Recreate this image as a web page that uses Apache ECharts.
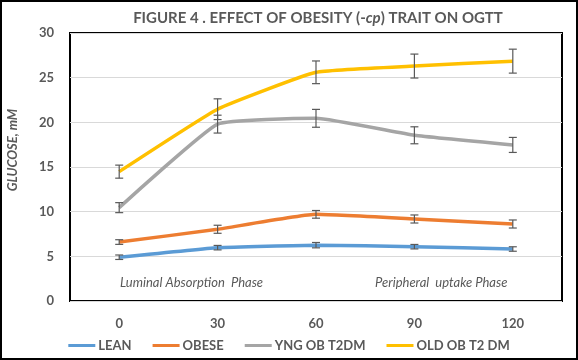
<!DOCTYPE html>
<html><head><meta charset="utf-8">
<script src="https://cdn.jsdelivr.net/npm/echarts@6/dist/echarts.min.js"></script>
<style>html,body{margin:0;padding:0;background:#fff}#c{width:578px;height:360px}</style>
</head><body><div id="c"></div>
<script>
const categories = ['0', '30', '60', '90', '120'];
const yTicks = [0, 5, 10, 15, 20, 25, 30];
const seriesNames = ['LEAN', 'OBESE', 'YNG OB T2DM', 'OLD OB T2 DM'];
const lean = [4.9, 5.97, 6.25, 6.08, 5.82];
const obese = [6.6, 8.03, 9.7, 9.18, 8.62];
const yng = [10.45, 19.8, 20.45, 18.55, 17.47];
const old = [14.48, 21.47, 25.6, 26.3, 26.85];
const leanErr = [0.25, 0.25, 0.3, 0.25, 0.25];
const obeseErr = [0.26, 0.45, 0.43, 0.45, 0.45];
const yngErr = [0.56, 1.0, 1.0, 0.95, 0.84];
const oldErr = [0.73, 1.16, 1.27, 1.34, 1.34];
const colors = ['#5B9BD5', '#ED7D31', '#A5A5A5', '#FFC000'];
const values = [lean, obese, yng, old];
const errs = [leanErr, obeseErr, yngErr, oldErr];

const FONT = 'Lato';
const GRAY = '#595959';

const chart = echarts.init(document.getElementById('c'));

const series = [];
values.forEach((v, i) => {
  series.push({
    name: seriesNames[i], type: 'line', data: v, smooth: 0.12,
    symbol: 'none', lineStyle: { color: colors[i], width: 3.5 },
    itemStyle: { color: colors[i] }, z: 3
  });
});
values.forEach((v, i) => {
  series.push({
    type: 'custom', z: 4, silent: true,
    data: v.map((y, k) => [k, y - errs[i][k], y + errs[i][k]]),
    encode: { x: 0, y: [1, 2] },
    renderItem: function (params, api) {
      const lo = api.coord([api.value(0), api.value(1)]);
      const hi = api.coord([api.value(0), api.value(2)]);
      const hw = 4;
      const st = { stroke: GRAY, lineWidth: 1.2 };
      return { type: 'group', children: [
        { type: 'line', shape: { x1: lo[0], y1: lo[1], x2: hi[0], y2: hi[1] }, style: st },
        { type: 'line', shape: { x1: lo[0] - hw, y1: lo[1], x2: lo[0] + hw, y2: lo[1] }, style: st },
        { type: 'line', shape: { x1: hi[0] - hw, y1: hi[1], x2: hi[0] + hw, y2: hi[1] }, style: st }
      ]};
    }
  });
});

chart.setOption({
  animation: false,
  textStyle: { fontFamily: FONT },
  title: {
    text: 'FIGURE 4 . EFFECT OF OBESITY (-{i|cp}) TRAIT ON OGTT',
    left: 313, top: 6, textAlign: 'center',
    textStyle: { fontFamily: FONT, fontSize: 15, fontWeight: 'bold', color: GRAY,
      rich: { i: { fontFamily: FONT, fontSize: 15, fontWeight: 'bold', fontStyle: 'italic', color: GRAY } } }
  },
  grid: { left: 70, top: 33, right: 16, bottom: 59, show: true, borderColor: '#000', borderWidth: 2, backgroundColor: 'transparent' },
  legend: {
    data: seriesNames, bottom: 3, left: 'center', icon: 'rect', itemWidth: 27, itemHeight: 3, itemGap: 21,
    textStyle: { fontFamily: FONT, fontSize: 13, fontWeight: 'bold', color: GRAY, padding: [0, 0, 0, -2] }
  },
  xAxis: {
    type: 'category', data: categories, boundaryGap: true,
    axisLine: { show: false }, axisTick: { show: false },
    axisLabel: { margin: 16, fontFamily: FONT, fontSize: 13, fontWeight: 'bold', color: GRAY }
  },
  yAxis: {
    type: 'value', min: yTicks[0], max: yTicks[yTicks.length - 1], interval: 5,
    axisLine: { show: false }, axisTick: { show: false },
    splitLine: { lineStyle: { color: '#D9D9D9', width: 1 } },
    axisLabel: { margin: 16, fontFamily: FONT, fontSize: 13, fontWeight: 'bold', color: GRAY }
  },
  graphic: [
    { type: 'rect', shape: { x: 1, y: 1, width: 576, height: 358 }, style: { fill: 'none', stroke: '#000', lineWidth: 2 }, silent: true },
    { type: 'text', x: 13, y: 150, rotation: Math.PI / 2, style: { text: 'GLUCOSE, mM', fontFamily: FONT, fontSize: 13, fontWeight: 'bold', fontStyle: 'italic', fill: GRAY, align: 'center', verticalAlign: 'middle' } },
    { type: 'text', x: 120, y: 283, style: { text: 'Luminal Absorption  Phase', fontFamily: FONT, fontSize: 13, fontStyle: 'italic', fill: GRAY, align: 'left', verticalAlign: 'middle' } },
    { type: 'text', x: 375, y: 283, style: { text: 'Peripheral  uptake Phase', fontFamily: FONT, fontSize: 13, fontStyle: 'italic', fill: GRAY, align: 'left', verticalAlign: 'middle' } }
  ],
  series: series
});
</script></body></html>
